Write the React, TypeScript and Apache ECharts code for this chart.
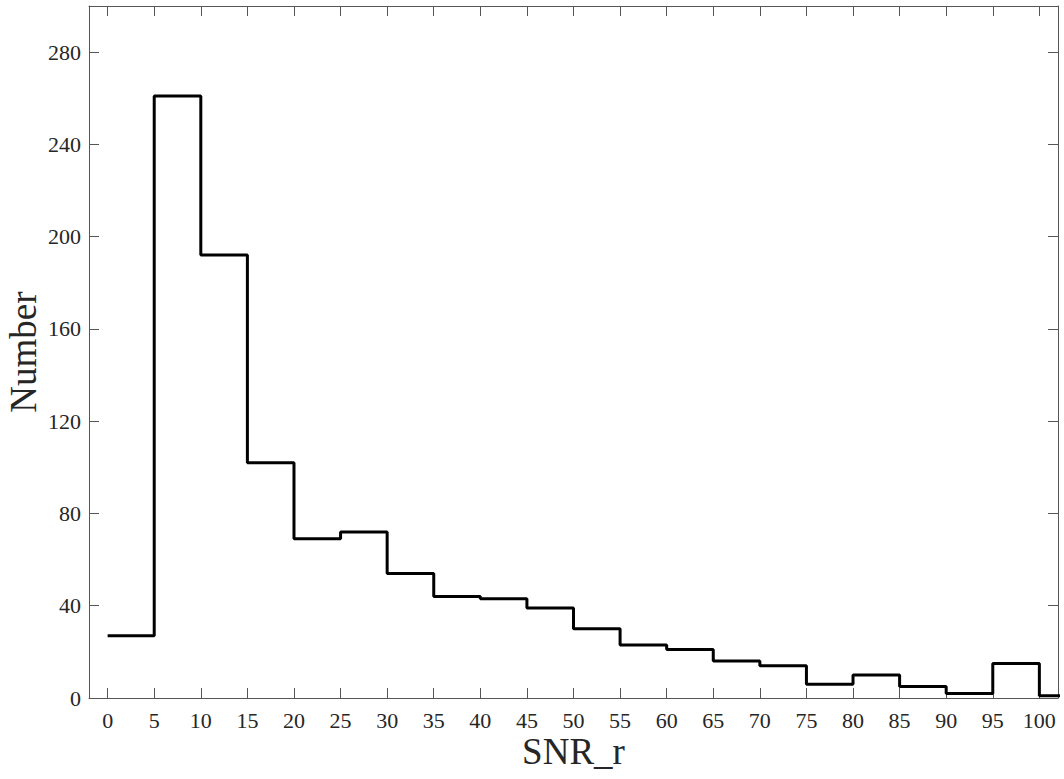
import React, { useEffect, useRef } from "react";
import * as echarts from "echarts";

// Histogram bin left edges and counts (last bin is clipped at the axis edge)
const binEdges = [0, 5, 10, 15, 20, 25, 30, 35, 40, 45, 50, 55, 60, 65, 70, 75, 80, 85, 90, 95, 100];
const counts = [27, 261, 192, 102, 69, 72, 54, 44, 43, 39, 30, 23, 21, 16, 14, 6, 10, 5, 2, 15, 1];
const xTicks = [0, 5, 10, 15, 20, 25, 30, 35, 40, 45, 50, 55, 60, 65, 70, 75, 80, 85, 90, 95, 100];
const yTicks = [0, 40, 80, 120, 160, 200, 240, 280];
const xRange = [-2, 102];
const yRange = [0, 300];

export default function App() {
  const ref = useRef<HTMLDivElement>(null);
  useEffect(() => {
    if (!ref.current) return;
    const chart = echarts.init(ref.current, undefined, { renderer: "svg" });
    const data: number[][] = binEdges.map((x, i) => [x, counts[i]]);
    data.push([xRange[1] + 3, counts[counts.length - 1]]);
    const font = "Liberation Serif";
    const axisLine = { show: true, onZero: false, lineStyle: { color: "#555", width: 1 } };
    const tickX = { show: true, inside: true, length: 10, lineStyle: { color: "#555", width: 1 }, customValues: xTicks };
    const tickY = { show: true, inside: true, length: 10, lineStyle: { color: "#555", width: 1 }, customValues: yTicks };
    chart.setOption({
      animation: false,
      backgroundColor: "#fff",
      grid: { left: 89, top: 6, right: 6, bottom: 81, containLabel: false, outerBoundsMode: "none" },
      xAxis: [
        {
          type: "value",
          min: xRange[0],
          max: xRange[1],
          position: "bottom",
          name: "SNR_r",
          nameLocation: "middle",
          nameGap: 35,
          nameMoveOverlap: false,
          nameTextStyle: { fontFamily: font, fontSize: 37, color: "#262626" },
          axisLine,
          axisTick: tickX,
          axisLabel: { customValues: xTicks, fontFamily: font, fontSize: 22, color: "#262626", margin: 11 },
          splitLine: { show: false },
        },
        {
          type: "value",
          min: xRange[0],
          max: xRange[1],
          position: "top",
          axisLine,
          axisTick: tickX,
          axisLabel: { show: false },
          splitLine: { show: false },
        },
      ],
      yAxis: [
        {
          type: "value",
          min: yRange[0],
          max: yRange[1],
          position: "left",
          name: "Number",
          nameLocation: "middle",
          nameGap: 47,
          nameMoveOverlap: false,
          nameTextStyle: { fontFamily: font, fontSize: 37, color: "#262626" },
          axisLine,
          axisTick: tickY,
          axisLabel: { customValues: yTicks, fontFamily: font, fontSize: 22, color: "#262626", margin: 8 },
          splitLine: { show: false },
        },
        {
          type: "value",
          min: yRange[0],
          max: yRange[1],
          position: "right",
          axisLine,
          axisTick: tickY,
          axisLabel: { show: false },
          splitLine: { show: false },
        },
      ],
      series: [
        {
          type: "line",
          step: "end",
          data,
          symbol: "none",
          clip: true,
          lineStyle: { color: "#000", width: 3 },
        },
      ],
    });
    return () => chart.dispose();
  }, []);
  return (
    <div
      ref={ref}
      style={{ position: "fixed", left: 0, top: 0, width: 1064, height: 779, background: "#fff" }}
    />
  );
}
